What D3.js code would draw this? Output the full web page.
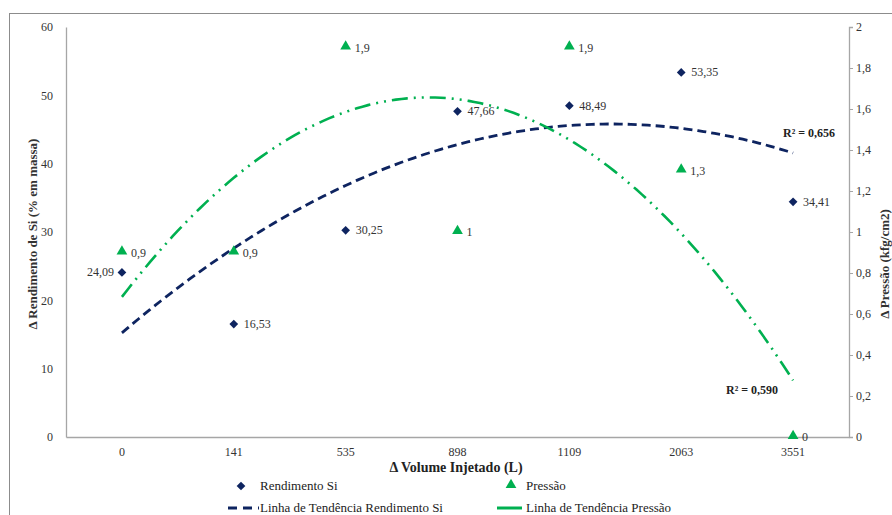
<!DOCTYPE html>
<html>
<head>
<meta charset="utf-8">
<script src="https://cdn.jsdelivr.net/npm/d3@7"></script>
<style>
  html, body { margin: 0; padding: 0; background: #fff; }
  svg { display: block; }
</style>
</head>
<body>
<svg id="chart" width="892" height="515"></svg>
<script>
// Injected volume categories (x axis)
const volumes = ["0", "141", "535", "898", "1109", "2063", "3551"];
// Δ Silicon yield (% by mass), left axis
const rendimento = [24.09, 16.53, 30.25, 47.66, 48.49, 53.35, 34.41];
// Δ Pressure (kgf/cm2), right axis
const pressao = [0.9, 0.9, 1.9, 1, 1.9, 1.3, 0];
// Axis tick values
const leftTicks = [0, 10, 20, 30, 40, 50, 60];
const rightTicks = [0, 0.2, 0.4, 0.6, 0.8, 1, 1.2, 1.4, 1.6, 1.8, 2];
// Coefficients of determination shown beside the trend lines
const r2Rendimento = "0,656";
const r2Pressao = "0,590";

const FONT = "Liberation Serif";
const navy = "#0e2460";
const green = "#00b050";
const textCol = "#333";
const axisCol = "#a6a6a6";

const svg = d3.select("#chart");
const margin = { left: 66, right: 849, top: 27, bottom: 437 };

const x = d3.scaleBand().domain(volumes).range([margin.left, margin.right]).padding(0);
const cx = d => x(d) + x.bandwidth() / 2;
const yL = d3.scaleLinear().domain([0, 60]).range([margin.bottom, margin.top]);
const yR = d3.scaleLinear().domain([0, 2]).range([margin.bottom, margin.top]);
const fmt = v => String(+v.toFixed(2)).replace(".", ",");

// Outer frame
svg.append("rect")
  .attr("x", 9.5).attr("y", 13.5).attr("width", 900).attr("height", 520)
  .attr("fill", "none").attr("stroke", "#8c8c8c").attr("stroke-width", 1);

function styleAxis(g) {
  g.attr("font-family", FONT);
  g.select(".domain").attr("stroke", axisCol).attr("stroke-width", 1.3);
  g.selectAll(".tick line").attr("stroke", axisCol);
  g.selectAll("text").attr("font-size", 12).attr("fill", textCol).attr("font-family", FONT);
}

// Left axis
svg.append("g").attr("transform", `translate(${margin.left},0)`)
  .call(d3.axisLeft(yL).tickValues(leftTicks).tickSize(0).tickPadding(13).tickFormat(d => d))
  .call(styleAxis);

// Right axis
svg.append("g").attr("transform", `translate(${margin.right},0)`)
  .call(d3.axisRight(yR).tickValues(rightTicks).tickSize(4).tickSizeOuter(4).tickPadding(3).tickFormat(fmt))
  .call(styleAxis);

// Bottom axis
svg.append("g").attr("transform", `translate(0,${margin.bottom})`)
  .call(d3.axisBottom(x).tickSize(0).tickPadding(10))
  .call(styleAxis);

// Axis titles
svg.append("text")
  .attr("transform", `translate(37,234) rotate(-90)`)
  .attr("text-anchor", "middle").attr("font-size", 13).attr("font-weight", "bold").attr("fill", textCol)
  .attr("font-family", FONT)
  .text("Δ Rendimento de Si (% em massa)");
svg.append("text")
  .attr("transform", `translate(889,264) rotate(-90)`)
  .attr("text-anchor", "middle").attr("font-size", 13).attr("font-weight", "bold").attr("fill", textCol)
  .attr("font-family", FONT)
  .text("Δ Pressão  (kfg/cm2)");
svg.append("text")
  .attr("x", 456).attr("y", 472)
  .attr("text-anchor", "middle").attr("font-size", 14).attr("font-weight", "bold").attr("fill", "#222")
  .attr("font-family", FONT)
  .text("Δ Volume Injetado (L)");

// Second-order polynomial least-squares fit over category positions 1..n
function quadFit(vals) {
  const s = [0, 0, 0, 0, 0], t = [0, 0, 0];
  vals.forEach((v, i) => {
    const xi = i + 1;
    for (let k = 0; k < 5; k++) s[k] += Math.pow(xi, k);
    for (let k = 0; k < 3; k++) t[k] += v * Math.pow(xi, k);
  });
  // Solve the 3x3 normal equations with Cramer's rule
  const M = [[s[0], s[1], s[2]], [s[1], s[2], s[3]], [s[2], s[3], s[4]]];
  const det = m => m[0][0] * (m[1][1] * m[2][2] - m[1][2] * m[2][1])
    - m[0][1] * (m[1][0] * m[2][2] - m[1][2] * m[2][0])
    + m[0][2] * (m[1][0] * m[2][1] - m[1][1] * m[2][0]);
  const D = det(M);
  const coef = [0, 1, 2].map(c => det(M.map((row, r) => row.map((v, j) => j === c ? t[r] : v))) / D);
  return xi => coef[0] + coef[1] * xi + coef[2] * xi * xi;
}

const posScale = d3.scaleLinear().domain([1, volumes.length])
  .range([cx(volumes[0]), cx(volumes[volumes.length - 1])]);
const samples = d3.range(1, volumes.length + 0.001, 0.05);

const fitR = quadFit(rendimento);
const fitP = quadFit(pressao);

svg.append("path")
  .datum(samples)
  .attr("fill", "none").attr("stroke", navy).attr("stroke-width", 2.8)
  .attr("stroke-dasharray", "9,5")
  .attr("d", d3.line().x(s => posScale(s)).y(s => yL(fitR(s))));

svg.append("path")
  .datum(samples)
  .attr("fill", "none").attr("stroke", green).attr("stroke-width", 2.6)
  .attr("stroke-dasharray", "16,6,2,6,2,6")
  .attr("d", d3.line().x(s => posScale(s)).y(s => yR(fitP(s))));

// Markers: square rotated 45° for the yield, triangle for the pressure
const diamondPath = d3.symbol().type(d3.symbolSquare).size(38);
const triangle = d3.symbol().type(d3.symbolTriangle).size(50);

svg.append("g").selectAll("path")
  .data(rendimento)
  .join("path")
  .attr("d", diamondPath)
  .attr("transform", (d, i) => `translate(${cx(volumes[i])},${yL(d)}) rotate(45)`)
  .attr("fill", navy);

svg.append("g").selectAll("path")
  .data(pressao)
  .join("path")
  .attr("d", triangle)
  .attr("transform", (d, i) => `translate(${cx(volumes[i])},${yR(d) - 1})`)
  .attr("fill", green);

// Data labels
svg.append("g").selectAll("text")
  .data(rendimento)
  .join("text")
  .attr("font-family", FONT)
  .attr("x", (d, i) => i === 0 ? cx(volumes[i]) - 8 : cx(volumes[i]) + 10)
  .attr("y", d => yL(d) + 4)
  .attr("text-anchor", (d, i) => i === 0 ? "end" : "start")
  .attr("font-size", 12).attr("fill", textCol)
  .text(d => fmt(d));

svg.append("g").selectAll("text")
  .data(pressao)
  .join("text")
  .attr("font-family", FONT)
  .attr("x", (d, i) => cx(volumes[i]) + 9)
  .attr("y", d => yR(d) + 4)
  .attr("font-size", 12).attr("fill", textCol)
  .text(d => fmt(d));

// R² annotations
svg.append("text")
  .attr("x", 783).attr("y", 137).attr("font-size", 12).attr("font-weight", "bold").attr("fill", "#222")
  .attr("font-family", FONT)
  .text(`R² = ${r2Rendimento}`);
svg.append("text")
  .attr("x", 726).attr("y", 394).attr("font-size", 12).attr("font-weight", "bold").attr("fill", "#222")
  .attr("font-family", FONT)
  .text(`R² = ${r2Pressao}`);

// Legend
const lg = svg.append("g");
const legendText = (xp, yp, s) => lg.append("text").attr("x", xp).attr("y", yp)
  .attr("font-family", FONT).attr("font-size", 13).attr("fill", "#222").text(s);
lg.append("path").attr("d", diamondPath).attr("transform", "translate(241,486) rotate(45)").attr("fill", navy);
legendText(260, 490, "Rendimento Si");
lg.append("path").attr("d", triangle).attr("transform", "translate(511,485)").attr("fill", green);
legendText(526, 490, "Pressão");
lg.append("line").attr("x1", 228).attr("x2", 259).attr("y1", 508).attr("y2", 508)
  .attr("stroke", navy).attr("stroke-width", 3).attr("stroke-dasharray", "9,6");
legendText(260, 512, "Linha de Tendência Rendimento Si");
lg.append("line").attr("x1", 497).attr("x2", 522).attr("y1", 508).attr("y2", 508)
  .attr("stroke", green).attr("stroke-width", 3);
legendText(526, 512, "Linha de Tendência Pressão");
</script>
</body>
</html>
